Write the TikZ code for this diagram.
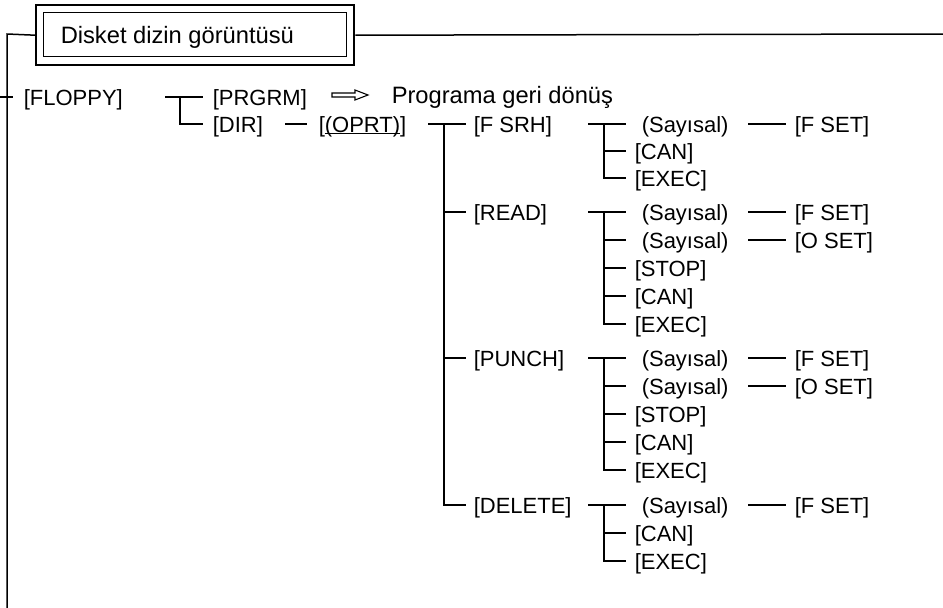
\documentclass[tikz,border=0pt]{standalone}
\usepackage{fontspec}
\setmainfont{Liberation Sans}
\usetikzlibrary{arrows.meta,calc}
\begin{document}
\begin{tikzpicture}[x=1pt,y=-1pt,line width=1.5pt,
  lbl/.style={anchor=base west,inner sep=0pt,font=\fontsize{22}{26}\selectfont},
  big/.style={anchor=base west,inner sep=0pt,font=\fontsize{23.7}{28}\selectfont},
  frame/.style={draw,inner sep=0pt,anchor=north west}]
\useasboundingbox (0,0) rectangle (943,608);
% title box
\node[frame,line width=2.4pt,minimum width=318pt,minimum height=60pt] (tout) at (35,4) {};
\node[frame,line width=1.3pt,minimum width=303pt,minimum height=44pt] (tin) at (43,12) {};
\node[big] (ttl) at (60,43) {Disket dizin görüntüsü};
\coordinate (lc) at (7,34);
\coordinate (lb) at (7,608);
\coordinate (rc) at (943,34);
\draw (tout.west) -- (lc) -- (lb);
\draw (tout.east) -- (rc);
% level 1
\node[lbl] (floppy) at (23,105) {[FLOPPY]};
\coordinate (ft0) at (0,97); \coordinate (ft1) at (13,97);
\draw (ft0) -- (ft1);
\node[lbl] (prgrm) at (212,105) {[PRGRM]};
\node[lbl] (dir) at (212,132) {[DIR]};
\coordinate (pb0) at (165,97); \coordinate (pb1) at (180,97);
\coordinate (pb2) at (180,124); \coordinate (pe1) at (203,97);
\coordinate (pe2) at (203,124);
\draw (pb0) -- (pe1);
\draw (pb1) -- (pb2) -- (pe2);
\node[big] (prog) at (391,103) {Programa geri dönüş};
\draw[line width=1.1pt] (332,93) -- (355,93) -- (355,90) -- (368,95) -- (355,100) -- (355,97) -- (332,97) -- cycle;
\coordinate (d0) at (285,124); \coordinate (d1) at (307,124);
\draw (d0) -- (d1);
\node[lbl] (oprt) at (318,132) {[\underline{\smash{(OPRT)}}]};
% operation branch
\coordinate (o0) at (428,124); \coordinate (o1) at (444,124); \coordinate (o2) at (466,124);
\coordinate (oR) at (444,212); \coordinate (oRe) at (466,212);
\coordinate (oP) at (444,358); \coordinate (oPe) at (466,358);
\coordinate (oD) at (444,505); \coordinate (oDe) at (466,505);
\draw (o0) -- (o2);
\draw (o1) -- (oD) -- (oDe);
\draw (oR) -- (oRe);
\draw (oP) -- (oPe);
\node[lbl] (fsrh) at (473,132) {[F SRH]};
\node[lbl] (read) at (473,220) {[READ]};
\node[lbl] (punch) at (473,366) {[PUNCH]};
\node[lbl] (delete) at (473,513) {[DELETE]};
% F SRH group
\coordinate (s1a) at (588,124); \coordinate (s1b) at (604,124); \coordinate (s1c) at (626,124);
\coordinate (s1d) at (604,151); \coordinate (s1e) at (626,151);
\coordinate (s1f) at (604,178); \coordinate (s1g) at (626,178);
\draw (s1a) -- (s1c); \draw (s1b) -- (s1f) -- (s1g); \draw (s1d) -- (s1e);
\node[lbl] (n1) at (641,132) {(Sayısal)};
\node[lbl] (c1) at (634,159) {[CAN]};
\node[lbl] (e1) at (634,186) {[EXEC]};
\coordinate (l1a) at (748,124); \coordinate (l1b) at (786,124);
\draw (l1a) -- (l1b);
\node[lbl] (f1) at (794,132) {[F SET]};
% READ group
\coordinate (s2a) at (588,212); \coordinate (s2b) at (604,212); \coordinate (s2c) at (626,212);
\coordinate (s2d) at (604,240); \coordinate (s2e) at (626,240);
\coordinate (s2f) at (604,268); \coordinate (s2g) at (626,268);
\coordinate (s2h) at (604,296); \coordinate (s2i) at (626,296);
\coordinate (s2j) at (604,324); \coordinate (s2k) at (626,324);
\draw (s2a) -- (s2c); \draw (s2b) -- (s2j) -- (s2k);
\draw (s2d) -- (s2e); \draw (s2f) -- (s2g); \draw (s2h) -- (s2i);
\node[lbl] (n2) at (641,220) {(Sayısal)};
\node[lbl] (n3) at (641,248) {(Sayısal)};
\node[lbl] (st2) at (634,276) {[STOP]};
\node[lbl] (c2) at (634,304) {[CAN]};
\node[lbl] (e2) at (634,332) {[EXEC]};
\coordinate (l2a) at (748,212); \coordinate (l2b) at (786,212);
\coordinate (l3a) at (748,240); \coordinate (l3b) at (786,240);
\draw (l2a) -- (l2b); \draw (l3a) -- (l3b);
\node[lbl] (f2) at (794,220) {[F SET]};
\node[lbl] (o3) at (794,248) {[O SET]};
% PUNCH group
\coordinate (s3a) at (588,358); \coordinate (s3b) at (604,358); \coordinate (s3c) at (626,358);
\coordinate (s3d) at (604,386); \coordinate (s3e) at (626,386);
\coordinate (s3f) at (604,414); \coordinate (s3g) at (626,414);
\coordinate (s3h) at (604,442); \coordinate (s3i) at (626,442);
\coordinate (s3j) at (604,470); \coordinate (s3k) at (626,470);
\draw (s3a) -- (s3c); \draw (s3b) -- (s3j) -- (s3k);
\draw (s3d) -- (s3e); \draw (s3f) -- (s3g); \draw (s3h) -- (s3i);
\node[lbl] (n4) at (641,366) {(Sayısal)};
\node[lbl] (n5) at (641,394) {(Sayısal)};
\node[lbl] (st3) at (634,422) {[STOP]};
\node[lbl] (c3) at (634,450) {[CAN]};
\node[lbl] (e3) at (634,478) {[EXEC]};
\coordinate (l4a) at (748,358); \coordinate (l4b) at (786,358);
\coordinate (l5a) at (748,386); \coordinate (l5b) at (786,386);
\draw (l4a) -- (l4b); \draw (l5a) -- (l5b);
\node[lbl] (f4) at (794,366) {[F SET]};
\node[lbl] (o5) at (794,394) {[O SET]};
% DELETE group
\coordinate (s4a) at (588,505); \coordinate (s4b) at (604,505); \coordinate (s4c) at (626,505);
\coordinate (s4d) at (604,533); \coordinate (s4e) at (626,533);
\coordinate (s4f) at (604,561); \coordinate (s4g) at (626,561);
\draw (s4a) -- (s4c); \draw (s4b) -- (s4f) -- (s4g); \draw (s4d) -- (s4e);
\node[lbl] (n6) at (641,513) {(Sayısal)};
\node[lbl] (c4) at (634,541) {[CAN]};
\node[lbl] (e4) at (634,569) {[EXEC]};
\coordinate (l6a) at (748,505); \coordinate (l6b) at (786,505);
\draw (l6a) -- (l6b);
\node[lbl] (f6) at (794,513) {[F SET]};
\end{tikzpicture}
\end{document}
